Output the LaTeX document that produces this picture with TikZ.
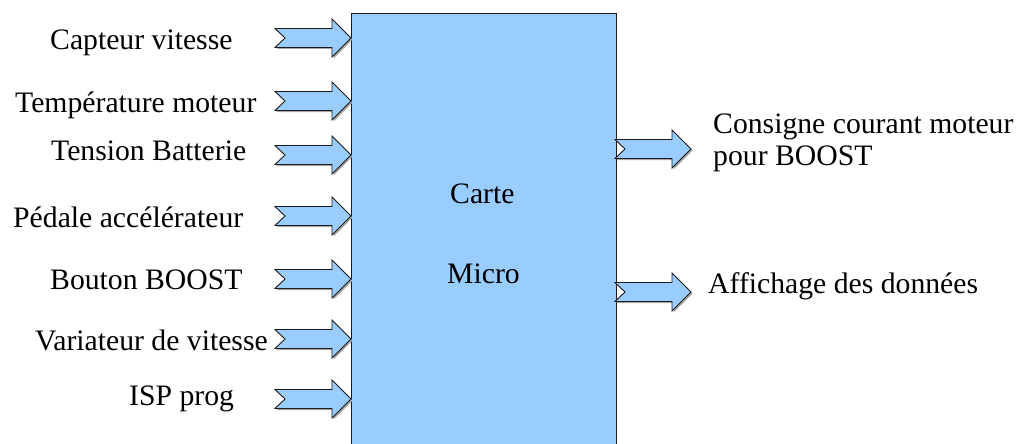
\documentclass[tikz,border=0pt]{standalone}
\usepackage{fontspec}
\setmainfont{Liberation Serif}
\definecolor{boxblue}{HTML}{99CCFF}
\definecolor{edge}{HTML}{1A1A1A}
\tikzset{
  lbl/.style={anchor=base west, inner sep=0pt, font=\fontsize{29.7}{33}\selectfont},
  barrow/.pic={
    \fill[black!35, shift={(1.5,1.5)}]
      (0,-9.5) -- (57,-9.5) -- (57,-19) -- (76,0) -- (57,19) -- (57,9.5) -- (0,9.5) -- (10,0) -- cycle;
    \draw[edge, fill=boxblue, line width=0.9pt, line join=miter]
      (0,-9.5) -- (57,-9.5) -- (57,-19) -- (76,0) -- (57,19) -- (57,9.5) -- (0,9.5) -- (10,0) -- cycle;
  }
}
\begin{document}
\begin{tikzpicture}[x=1pt,y=-1pt]
\useasboundingbox (0,0) rectangle (1022,444);
% main box
\fill[boxblue] (351,13) rectangle (616,450);
\draw[edge, line width=0.9pt] (351,450) -- (351,13) -- (616,13) -- (616,450);
\node[lbl] (carte) at (450,203) {Carte};
\node[lbl] (micro) at (447,283) {Micro};
% input arrows
\foreach \yy in {38,101,155,216,279,339,399} {
  \pic at (275,\yy) {barrow};
}
% output arrows
\foreach \yy in {149,292} {
  \pic at (615,\yy) {barrow};
}
% input labels
\node[lbl] (capteur) at (50,50) {Capteur vitesse};
\node[lbl] (temp) at (15,112) {Température moteur};
\node[lbl] (tension) at (51,160) {Tension Batterie};
\node[lbl] (pedale) at (13,227) {Pédale accélérateur};
\node[lbl] (bouton) at (50,289) {Bouton BOOST};
\node[lbl] (variateur) at (35,350) {Variateur de vitesse};
\node[lbl] (isp) at (129,405) {ISP prog};
% output labels
\node[lbl] (consigne) at (713,133) {Consigne courant moteur};
\node[lbl] (pour) at (713,165) {pour BOOST};
\node[lbl] (affichage) at (708,293) {Affichage des données};
\end{tikzpicture}
\end{document}
